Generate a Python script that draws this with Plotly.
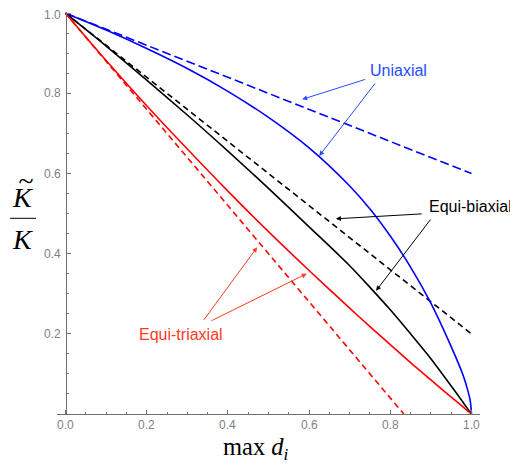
import plotly.graph_objects as go

# ---- data ----
x_solid = [0, 0.1, 0.2, 0.3, 0.4, 0.5, 0.6, 0.7, 0.75, 0.8, 0.85, 0.9, 0.95, 0.98, 0.99, 0.997, 1.0]
uni_solid = [1, 0.958, 0.912, 0.862, 0.805, 0.74, 0.664, 0.569, 0.5115, 0.444, 0.3665, 0.2765, 0.168, 0.095, 0.062, 0.033, 0.0]
bi_solid = [1, 0.918, 0.833, 0.746, 0.656, 0.563, 0.467, 0.37, 0.316, 0.26, 0.2, 0.138, 0.07, 0.028, 0.014, 0.004, 0.0]
tri_solid = [1, 0.882, 0.769, 0.661, 0.556, 0.455, 0.358, 0.264, 0.218, 0.173, 0.128, 0.085, 0.042, 0.017, 0.008, 0.0025, 0.0]

uni_dash_x = [0, 1.0]
uni_dash_y = [1, 0.6]
bi_dash_x = [0, 1.0]
bi_dash_y = [1, 0.2]
tri_dash_x = [0, 0.8333]
tri_dash_y = [1, 0.0]

x_ticks = [0, 0.2, 0.4, 0.6, 0.8, 1.0]
y_ticks = [0.2, 0.4, 0.6, 0.8, 1.0]

BLUE = "#0000ff"
RED = "#ff0000"
BLACK = "#000000"
UNI_TXT = "#2a4bff"
TRI_TXT = "#ff3a1e"

fig = go.Figure()

def line(x, y, color, dash=None):
    fig.add_trace(go.Scatter(
        x=x, y=y, mode="lines",
        line=dict(color=color, width=1.6, dash=dash, shape="spline", smoothing=0.8),
        showlegend=False, hoverinfo="skip"))

line(uni_dash_x, uni_dash_y, BLUE, "9px,4px")
line(bi_dash_x, bi_dash_y, BLACK, "6px,4px")
line(tri_dash_x, tri_dash_y, RED, "6px,4px")
line(x_solid, uni_solid, BLUE)
line(x_solid, bi_solid, BLACK)
line(x_solid, tri_solid, RED)

AX_COL = "#707070"
TICK_FONT = dict(family="Liberation Sans", size=12, color="#7f7f7f")

# page has an 8px body margin, so the figure is 510x460 and offset accordingly
fig.update_layout(
    width=510, height=460,
    margin=dict(l=49, r=38, t=4, b=54, autoexpand=False),
    plot_bgcolor="white", paper_bgcolor="white",
    xaxis=dict(
        range=[-0.021, 1.021], showgrid=False, zeroline=False, automargin=False,
        showline=True, linecolor=AX_COL, linewidth=1,
        tickmode="array", tickvals=x_ticks, showticklabels=False,
        ticks="inside", ticklen=4, tickcolor=AX_COL, tickwidth=1,
        minor=dict(ticks="inside", ticklen=2, tickcolor=AX_COL, tick0=0, dtick=0.05, showgrid=False),
    ),
    yaxis=dict(
        range=[0, 1.003], showgrid=False, zeroline=False, automargin=False,
        anchor="free", position=0.021 / 1.042,
        showline=True, linecolor=AX_COL, linewidth=1,
        tickmode="array", tickvals=y_ticks, showticklabels=False,
        ticks="inside", ticklen=4, tickcolor=AX_COL, tickwidth=1,
        minor=dict(ticks="inside", ticklen=2, tickcolor=AX_COL, tick0=0, dtick=0.05, showgrid=False),
    ),
)

# tick labels
for v in x_ticks:
    fig.add_annotation(x=v, y=0, xref="x", yref="y", text=f"{v:.1f}", showarrow=False,
                       font=TICK_FONT, xanchor="center", yanchor="middle", yshift=-11)
for v in y_ticks:
    fig.add_annotation(x=0, y=v, xref="x", yref="y", text=f"{v:.1f}", showarrow=False,
                       font=TICK_FONT, xanchor="right", yanchor="middle", xshift=-3,
                       yshift=-2 if v == 1.0 else 0)

# ---- labels ----
LBL = dict(family="Liberation Sans", size=16)
fig.add_annotation(x=0.821, y=0.857, xref="x", yref="y", text="Uniaxial", showarrow=False,
                   font=dict(**LBL, color=UNI_TXT))
fig.add_annotation(x=0.997, y=0.518, xref="x", yref="y", text="Equi-biaxial", showarrow=False,
                   font=dict(**LBL, color=BLACK))
fig.add_annotation(x=0.284, y=0.198, xref="x", yref="y", text="Equi-triaxial", showarrow=False,
                   font=dict(**LBL, color=TRI_TXT))

arrows = [
    (0.742, 0.836, 0.583, 0.785, UNI_TXT),
    (0.765, 0.828, 0.625, 0.644, UNI_TXT),
    (0.881, 0.4995, 0.666, 0.487, BLACK),
    (0.902, 0.489, 0.765, 0.3075, BLACK),
    (0.338, 0.231, 0.472, 0.416, TRI_TXT),
    (0.356, 0.231, 0.594, 0.350, TRI_TXT),
]
for ax_, ay_, x_, y_, c in arrows:
    fig.add_annotation(x=x_, y=y_, ax=ax_, ay=ay_, xref="x", yref="y", axref="x", ayref="y",
                       text="", showarrow=True, arrowhead=2, arrowsize=1, arrowwidth=1,
                       arrowcolor=c, standoff=0, startstandoff=0)

# ---- axis titles ----
SERIF = "Liberation Serif"
fig.add_annotation(x=0.4714, y=-0.085, xref="paper", yref="paper",
                   text="max <i>d</i><sub><i>i</i></sub>", showarrow=False,
                   font=dict(family=SERIF, size=24.5, color="black"),
                   xanchor="center", yanchor="middle")
fig.add_annotation(x=-0.0816, y=0.5386, xref="paper", yref="paper", text="<i>K</i>",
                   showarrow=False, font=dict(family=SERIF, size=28, color="black"),
                   xanchor="center", yanchor="middle")
fig.add_annotation(x=-0.0745, y=0.58, xref="paper", yref="paper", text="<i>~</i>",
                   showarrow=False, font=dict(family=SERIF, size=28, color="black"),
                   xanchor="center", yanchor="middle")
fig.add_annotation(x=-0.0816, y=0.4353, xref="paper", yref="paper", text="<i>K</i>",
                   showarrow=False, font=dict(family=SERIF, size=28, color="black"),
                   xanchor="center", yanchor="middle")
fig.add_shape(type="line", xref="paper", yref="paper", x0=-0.111, x1=-0.0496,
              y0=0.4868, y1=0.4868, line=dict(color="black", width=1))

fig.write_html("out.html")
